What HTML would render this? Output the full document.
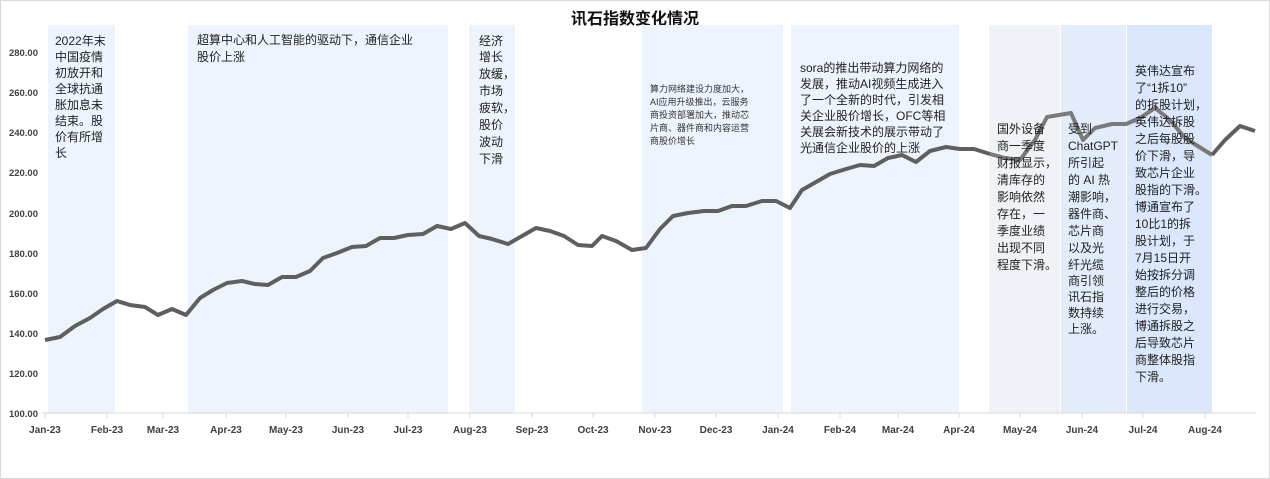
<!DOCTYPE html>
<html><head><meta charset="utf-8"><style>
body{margin:0;background:#fff;}
svg{display:block;font-family:"Liberation Sans","Noto Sans CJK SC",sans-serif;}
.yl{font-size:9.5px;font-weight:bold;fill:#404040;text-anchor:end;}
.xl{font-size:10px;font-weight:bold;fill:#404040;text-anchor:middle;}
.t{font-size:12px;fill:#222;}
.s{font-size:9px;fill:#333;}
</style></head><body>
<svg width="1270" height="479" viewBox="0 0 1270 479">
<rect x="0.5" y="0.5" width="1269" height="478" fill="#fff" stroke="#d9d9d9"/>
<text x="635" y="24" font-size="16" font-weight="bold" text-anchor="middle" fill="#111">讯石指数变化情况</text>
<!-- boxes -->
<rect x="48" y="25" width="67" height="388" fill="#eef4fd"/>
<rect x="188" y="25" width="260" height="388" fill="#eef4fd"/>
<rect x="469" y="25" width="46" height="388" fill="#eef4fd"/>
<rect x="642" y="25" width="141" height="388" fill="#eef4fd"/>
<rect x="791" y="25" width="168" height="388" fill="#eef4fd"/>
<rect x="989" y="25" width="71" height="388" fill="#eff2f6"/>
<rect x="1061" y="25" width="65" height="388" fill="#e3ecfb"/>
<rect x="1127" y="25" width="85" height="388" fill="#dae7fc"/>
<!-- y labels -->
<g class="yl">
<text x="38" y="56">280.00</text><text x="38" y="96">260.00</text><text x="38" y="136">240.00</text>
<text x="38" y="176">220.00</text><text x="38" y="217">200.00</text><text x="38" y="257">180.00</text>
<text x="38" y="297">160.00</text><text x="38" y="337">140.00</text><text x="38" y="377">120.00</text>
<text x="38" y="417">100.00</text></g>
<line x1="42" y1="413" x2="1256" y2="413" stroke="#d9d9d9"/>
<g stroke="#d9d9d9">
<line x1="45" y1="413" x2="45" y2="418"/><line x1="107" y1="413" x2="107" y2="418"/><line x1="163" y1="413" x2="163" y2="418"/><line x1="226" y1="413" x2="226" y2="418"/><line x1="286" y1="413" x2="286" y2="418"/><line x1="348" y1="413" x2="348" y2="418"/><line x1="408" y1="413" x2="408" y2="418"/><line x1="470" y1="413" x2="470" y2="418"/><line x1="532" y1="413" x2="532" y2="418"/><line x1="593" y1="413" x2="593" y2="418"/><line x1="655" y1="413" x2="655" y2="418"/><line x1="716" y1="413" x2="716" y2="418"/><line x1="778" y1="413" x2="778" y2="418"/><line x1="840" y1="413" x2="840" y2="418"/><line x1="898" y1="413" x2="898" y2="418"/><line x1="959" y1="413" x2="959" y2="418"/><line x1="1020" y1="413" x2="1020" y2="418"/><line x1="1082" y1="413" x2="1082" y2="418"/><line x1="1143" y1="413" x2="1143" y2="418"/><line x1="1205" y1="413" x2="1205" y2="418"/>
</g>
<g class="xl">
<text x="45" y="433">Jan-23</text><text x="107" y="433">Feb-23</text><text x="163" y="433">Mar-23</text><text x="226" y="433">Apr-23</text><text x="286" y="433">May-23</text><text x="348" y="433">Jun-23</text><text x="408" y="433">Jul-23</text><text x="470" y="433">Aug-23</text><text x="532" y="433">Sep-23</text><text x="593" y="433">Oct-23</text><text x="655" y="433">Nov-23</text><text x="716" y="433">Dec-23</text><text x="778" y="433">Jan-24</text><text x="840" y="433">Feb-24</text><text x="898" y="433">Mar-24</text><text x="959" y="433">Apr-24</text><text x="1020" y="433">May-24</text><text x="1082" y="433">Jun-24</text><text x="1143" y="433">Jul-24</text><text x="1205" y="433">Aug-24</text>
</g>
<!-- line -->
<polyline fill="none" stroke="#5f5f5f" stroke-width="4" stroke-linejoin="round" points="45,340 60,337 75,326 90,318 103,309 117,301 130,305 145,307 158,315 172,309 186,315 200,298 213,290 227,283 242,281 255,284 268,285 282,277 296,277 310,271 323,258 337,253 352,247 366,246 380,238 394,238 408,235 423,234 437,226 451,229 465,223 479,236 492,239 508,244 522,236 536,228 550,231 564,236 578,245 592,246 602,236 616,241 632,250 646,248 660,229 673,216 688,213 704,211 718,211 732,206 746,206 762,201 776,201 790,208 802,190 816,182 830,174 846,169 860,165 874,166 888,158 902,155 916,162 930,151 946,147 960,149 974,149 990,154"/>
<polyline fill="none" stroke="#7a7a7a" stroke-width="4" stroke-linejoin="round" points="990,154 1005,158 1020,160 1035,140 1047,117 1059,115 1071,113 1083,140 1095,128 1112,124 1126,124 1140,118 1155,108 1170,120 1185,138 1212,155"/>
<polyline fill="none" stroke="#5f5f5f" stroke-width="4" stroke-linejoin="round" points="1212,155 1225,140 1240,126 1255,131"/>
<!-- annotations -->
<g class="t">
<text x="55" y="45">2022年末</text><text x="55" y="61">中国疫情</text><text x="55" y="77">初放开和</text><text x="55" y="93">全球抗通</text><text x="55" y="109">胀加息未</text><text x="55" y="125">结束。股</text><text x="55" y="141">价有所增</text><text x="55" y="157">长</text>
<text x="197" y="44">超算中心和人工智能的驱动下，通信企业</text><text x="197" y="61">股价上涨</text>
<text x="479" y="45">经济</text><text x="479" y="61">增长</text><text x="479" y="78">放缓，</text><text x="479" y="95">市场</text><text x="479" y="112">疲软，</text><text x="479" y="129">股价</text><text x="479" y="146">波动</text><text x="479" y="163">下滑</text>
<text x="800" y="72">sora的推出带动算力网络的</text><text x="800" y="88">发展，推动AI视频生成进入</text><text x="800" y="104">了一个全新的时代，引发相</text><text x="800" y="120">关企业股价增长，OFC等相</text><text x="800" y="136">关展会新技术的展示带动了</text><text x="800" y="152">光通信企业股价的上涨</text>
<text x="997" y="133">国外设备</text><text x="997" y="150">商一季度</text><text x="997" y="167">财报显示，</text><text x="997" y="184">清库存的</text><text x="997" y="201">影响依然</text><text x="997" y="218">存在，一</text><text x="997" y="235">季度业绩</text><text x="997" y="252">出现不同</text><text x="997" y="260" dy="9">程度下滑。</text>
<text x="1068" y="133">受到</text><text x="1068" y="150">ChatGPT</text><text x="1068" y="167">所引起</text><text x="1068" y="184">的 AI 热</text><text x="1068" y="201">潮影响，</text><text x="1068" y="218">器件商、</text><text x="1068" y="235">芯片商</text><text x="1068" y="252">以及光</text><text x="1068" y="269">纤光缆</text><text x="1068" y="285">商引领</text><text x="1068" y="301">讯石指</text><text x="1068" y="317">数持续</text><text x="1068" y="333">上涨。</text>
<text x="1135" y="75">英伟达宣布</text><text x="1135" y="92">了“1拆10”</text><text x="1135" y="109">的拆股计划，</text><text x="1135" y="126">英伟达拆股</text><text x="1135" y="143">之后每股股</text><text x="1135" y="160">价下滑，导</text><text x="1135" y="177">致芯片企业</text><text x="1135" y="194">股指的下滑。</text><text x="1135" y="211">博通宣布了</text><text x="1135" y="228">10比1的拆</text><text x="1135" y="245">股计划，于</text><text x="1135" y="262">7月15日开</text><text x="1135" y="279">始按拆分调</text><text x="1135" y="296">整后的价格</text><text x="1135" y="313">进行交易，</text><text x="1135" y="330">博通拆股之</text><text x="1135" y="347">后导致芯片</text><text x="1135" y="364">商整体股指</text><text x="1135" y="381">下滑。</text>
</g>
<g class="s">
<text x="650" y="92">算力网络建设力度加大，</text><text x="650" y="105">AI应用升级推出，云服务</text><text x="650" y="118">商投资部署加大，推动芯</text><text x="650" y="131">片商、器件商和内容运营</text><text x="650" y="144">商股价增长</text>
</g>
</svg>
</body></html>
